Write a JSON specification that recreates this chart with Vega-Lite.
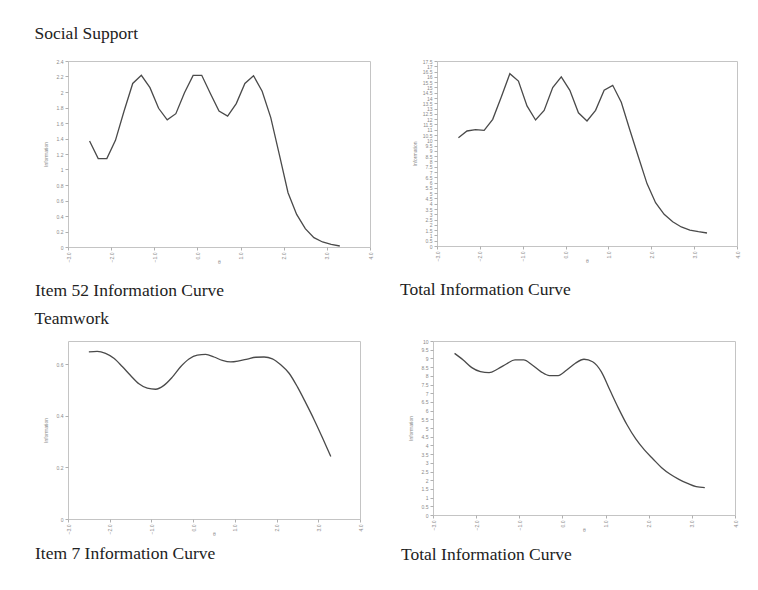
{
  "$schema": "https://vega.github.io/schema/vega-lite/v6.json",
  "background": "white",
  "padding": {"left": 34, "top": 25, "right": 5, "bottom": 5},
  "config": {
    "view": {"stroke": "#c4c4c4", "strokeWidth": 1},
    "axis": {
      "domain": false,
      "tickColor": "#b0b0b0",
      "tickSize": 3,
      "labelFontSize": 5,
      "labelColor": "#8a8a8a",
      "labelFont": "Liberation Sans",
      "titleFontSize": 5,
      "titleColor": "#8a8a8a",
      "titleFont": "Liberation Sans",
      "titleFontWeight": "normal",
      "grid": false
    },
    "axisX": {"labelAngle": -90, "labelPadding": 2, "titlePadding": 3, "minExtent": 9, "maxExtent": 9},
    "axisY": {"labelPadding": 2, "titlePadding": 6, "minExtent": 14, "maxExtent": 14},
    "title": {"font": "Liberation Serif", "fontSize": 17.5, "fontWeight": "normal", "color": "#222222"},
    "line": {"color": "#4a4a4a", "strokeWidth": 1.3}
  },
  "datasets": {
    "ss_item": [
      {"theta": -2.5, "info": 1.368}, {"theta": -2.3, "info": 1.14}, {"theta": -2.1, "info": 1.14},
      {"theta": -1.9, "info": 1.376}, {"theta": -1.7, "info": 1.755}, {"theta": -1.5, "info": 2.11},
      {"theta": -1.3, "info": 2.215}, {"theta": -1.1, "info": 2.056}, {"theta": -0.9, "info": 1.79},
      {"theta": -0.7, "info": 1.64}, {"theta": -0.5, "info": 1.72}, {"theta": -0.3, "info": 1.99},
      {"theta": -0.1, "info": 2.215}, {"theta": 0.1, "info": 2.215}, {"theta": 0.3, "info": 1.98},
      {"theta": 0.5, "info": 1.755}, {"theta": 0.7, "info": 1.69}, {"theta": 0.9, "info": 1.85},
      {"theta": 1.1, "info": 2.11}, {"theta": 1.3, "info": 2.21}, {"theta": 1.5, "info": 2.01},
      {"theta": 1.7, "info": 1.67}, {"theta": 1.9, "info": 1.19}, {"theta": 2.1, "info": 0.7},
      {"theta": 2.3, "info": 0.42}, {"theta": 2.5, "info": 0.237}, {"theta": 2.7, "info": 0.12},
      {"theta": 2.9, "info": 0.065}, {"theta": 3.1, "info": 0.034}, {"theta": 3.3, "info": 0.013}
    ],
    "ss_total": [
      {"theta": -2.5, "info": 10.25}, {"theta": -2.3, "info": 10.88}, {"theta": -2.1, "info": 11.0},
      {"theta": -1.9, "info": 10.94}, {"theta": -1.7, "info": 11.98}, {"theta": -1.5, "info": 14.1},
      {"theta": -1.3, "info": 16.3}, {"theta": -1.1, "info": 15.6}, {"theta": -0.9, "info": 13.25},
      {"theta": -0.7, "info": 11.92}, {"theta": -0.5, "info": 12.83}, {"theta": -0.3, "info": 14.98},
      {"theta": -0.1, "info": 15.99}, {"theta": 0.1, "info": 14.73}, {"theta": 0.3, "info": 12.6},
      {"theta": 0.5, "info": 11.83}, {"theta": 0.7, "info": 12.83}, {"theta": 0.9, "info": 14.73},
      {"theta": 1.1, "info": 15.2}, {"theta": 1.3, "info": 13.6}, {"theta": 1.5, "info": 10.97},
      {"theta": 1.7, "info": 8.42}, {"theta": 1.9, "info": 5.9}, {"theta": 2.1, "info": 4.1},
      {"theta": 2.3, "info": 3.0}, {"theta": 2.5, "info": 2.3}, {"theta": 2.7, "info": 1.8},
      {"theta": 2.9, "info": 1.51}, {"theta": 3.1, "info": 1.36}, {"theta": 3.3, "info": 1.23}
    ],
    "tw_item": [
      {"theta": -2.5, "info": 0.648}, {"theta": -2.3, "info": 0.65}, {"theta": -2.1, "info": 0.642},
      {"theta": -1.9, "info": 0.623}, {"theta": -1.7, "info": 0.591}, {"theta": -1.5, "info": 0.556},
      {"theta": -1.3, "info": 0.524}, {"theta": -1.1, "info": 0.507}, {"theta": -0.9, "info": 0.503},
      {"theta": -0.7, "info": 0.518}, {"theta": -0.5, "info": 0.55}, {"theta": -0.3, "info": 0.59},
      {"theta": -0.1, "info": 0.62}, {"theta": 0.1, "info": 0.635}, {"theta": 0.3, "info": 0.638},
      {"theta": 0.5, "info": 0.628}, {"theta": 0.7, "info": 0.615}, {"theta": 0.9, "info": 0.609},
      {"theta": 1.1, "info": 0.613}, {"theta": 1.3, "info": 0.62}, {"theta": 1.5, "info": 0.627},
      {"theta": 1.7, "info": 0.628}, {"theta": 1.9, "info": 0.621}, {"theta": 2.1, "info": 0.598},
      {"theta": 2.3, "info": 0.565}, {"theta": 2.5, "info": 0.512}, {"theta": 2.7, "info": 0.45},
      {"theta": 2.9, "info": 0.385}, {"theta": 3.1, "info": 0.315}, {"theta": 3.3, "info": 0.242}
    ],
    "tw_total": [
      {"theta": -2.5, "info": 9.29}, {"theta": -2.3, "info": 8.91}, {"theta": -2.1, "info": 8.47},
      {"theta": -1.9, "info": 8.24}, {"theta": -1.7, "info": 8.18}, {"theta": -1.5, "info": 8.39},
      {"theta": -1.3, "info": 8.68}, {"theta": -1.1, "info": 8.91}, {"theta": -0.9, "info": 8.91},
      {"theta": -0.7, "info": 8.62}, {"theta": -0.5, "info": 8.24}, {"theta": -0.3, "info": 8.01},
      {"theta": -0.1, "info": 8.01}, {"theta": 0.1, "info": 8.33}, {"theta": 0.3, "info": 8.72},
      {"theta": 0.5, "info": 8.95}, {"theta": 0.7, "info": 8.81}, {"theta": 0.9, "info": 8.24},
      {"theta": 1.1, "info": 7.18}, {"theta": 1.3, "info": 6.13}, {"theta": 1.5, "info": 5.17},
      {"theta": 1.7, "info": 4.37}, {"theta": 1.9, "info": 3.74}, {"theta": 2.1, "info": 3.22},
      {"theta": 2.3, "info": 2.72}, {"theta": 2.5, "info": 2.34}, {"theta": 2.7, "info": 2.05},
      {"theta": 2.9, "info": 1.82}, {"theta": 3.1, "info": 1.63}, {"theta": 3.3, "info": 1.57}
    ]
  },
  "vconcat": [
    {
      "title": {"text": "Social Support", "anchor": "start", "offset": 16, "dx": 0},
      "spacing": 25,
      "hconcat": [
        {
          "width": 302, "height": 186,
          "title": {"text": "Item 52 Information Curve", "orient": "bottom", "anchor": "start", "frame": "group", "dx": -33, "offset": 18},
          "data": {"name": "ss_item"},
          "mark": {"type": "line"},
          "encoding": {
            "x": {"field": "theta", "type": "quantitative", "title": "θ",
                  "scale": {"domain": [-3, 4], "nice": false, "zero": false},
                  "axis": {"values": [-3, -2, -1, 0, 1, 2, 3, 4], "format": ".1f"}},
            "y": {"field": "info", "type": "quantitative", "title": "Information",
                  "scale": {"domain": [0, 2.4], "nice": false},
                  "axis": {"values": [0, 0.2, 0.4, 0.6, 0.8, 1, 1.2, 1.4, 1.6, 1.8, 2, 2.2, 2.4], "format": "~g"}}
          }
        },
        {
          "width": 300, "height": 185,
          "title": {"text": "Total Information Curve", "orient": "bottom", "anchor": "start", "frame": "group", "dx": -37, "offset": 18},
          "data": {"name": "ss_total"},
          "mark": {"type": "line"},
          "encoding": {
            "x": {"field": "theta", "type": "quantitative", "title": "θ",
                  "scale": {"domain": [-3, 4], "nice": false, "zero": false},
                  "axis": {"values": [-3, -2, -1, 0, 1, 2, 3, 4], "format": ".1f"}},
            "y": {"field": "info", "type": "quantitative", "title": "Information",
                  "scale": {"domain": [0, 17.5], "nice": false},
                  "axis": {"values": [0, 0.5, 1, 1.5, 2, 2.5, 3, 3.5, 4, 4.5, 5, 5.5, 6, 6.5, 7, 7.5, 8, 8.5, 9, 9.5, 10, 10.5, 11, 11.5, 12, 12.5, 13, 13.5, 14, 14.5, 15, 15.5, 16, 16.5, 17, 17.5], "format": "~g"}}
          }
        }
      ]
    },
    {
      "title": {"text": "Teamwork", "anchor": "start", "offset": 11, "dx": 0},
      "spacing": 36,
      "hconcat": [
        {
          "width": 292, "height": 178,
          "title": {"text": "Item 7 Information Curve", "orient": "bottom", "anchor": "start", "frame": "group", "dx": -33, "offset": 9},
          "data": {"name": "tw_item"},
          "mark": {"type": "line", "interpolate": "monotone"},
          "encoding": {
            "x": {"field": "theta", "type": "quantitative", "title": "θ",
                  "scale": {"domain": [-3, 4], "nice": false, "zero": false},
                  "axis": {"values": [-3, -2, -1, 0, 1, 2, 3, 4], "format": ".1f"}},
            "y": {"field": "info", "type": "quantitative", "title": "Information",
                  "scale": {"domain": [0, 0.69], "nice": false},
                  "axis": {"values": [0, 0.2, 0.4, 0.6], "format": "~g"}}
          }
        },
        {
          "width": 302, "height": 174,
          "title": {"text": "Total Information Curve", "orient": "bottom", "anchor": "start", "frame": "group", "dx": -32, "offset": 14},
          "data": {"name": "tw_total"},
          "mark": {"type": "line", "interpolate": "monotone"},
          "encoding": {
            "x": {"field": "theta", "type": "quantitative", "title": "θ",
                  "scale": {"domain": [-3, 4], "nice": false, "zero": false},
                  "axis": {"values": [-3, -2, -1, 0, 1, 2, 3, 4], "format": ".1f"}},
            "y": {"field": "info", "type": "quantitative", "title": "Information",
                  "scale": {"domain": [0, 10], "nice": false},
                  "axis": {"values": [0, 0.5, 1, 1.5, 2, 2.5, 3, 3.5, 4, 4.5, 5, 5.5, 6, 6.5, 7, 7.5, 8, 8.5, 9, 9.5, 10], "format": "~g"}}
          }
        }
      ]
    }
  ],
  "spacing": 10
}
